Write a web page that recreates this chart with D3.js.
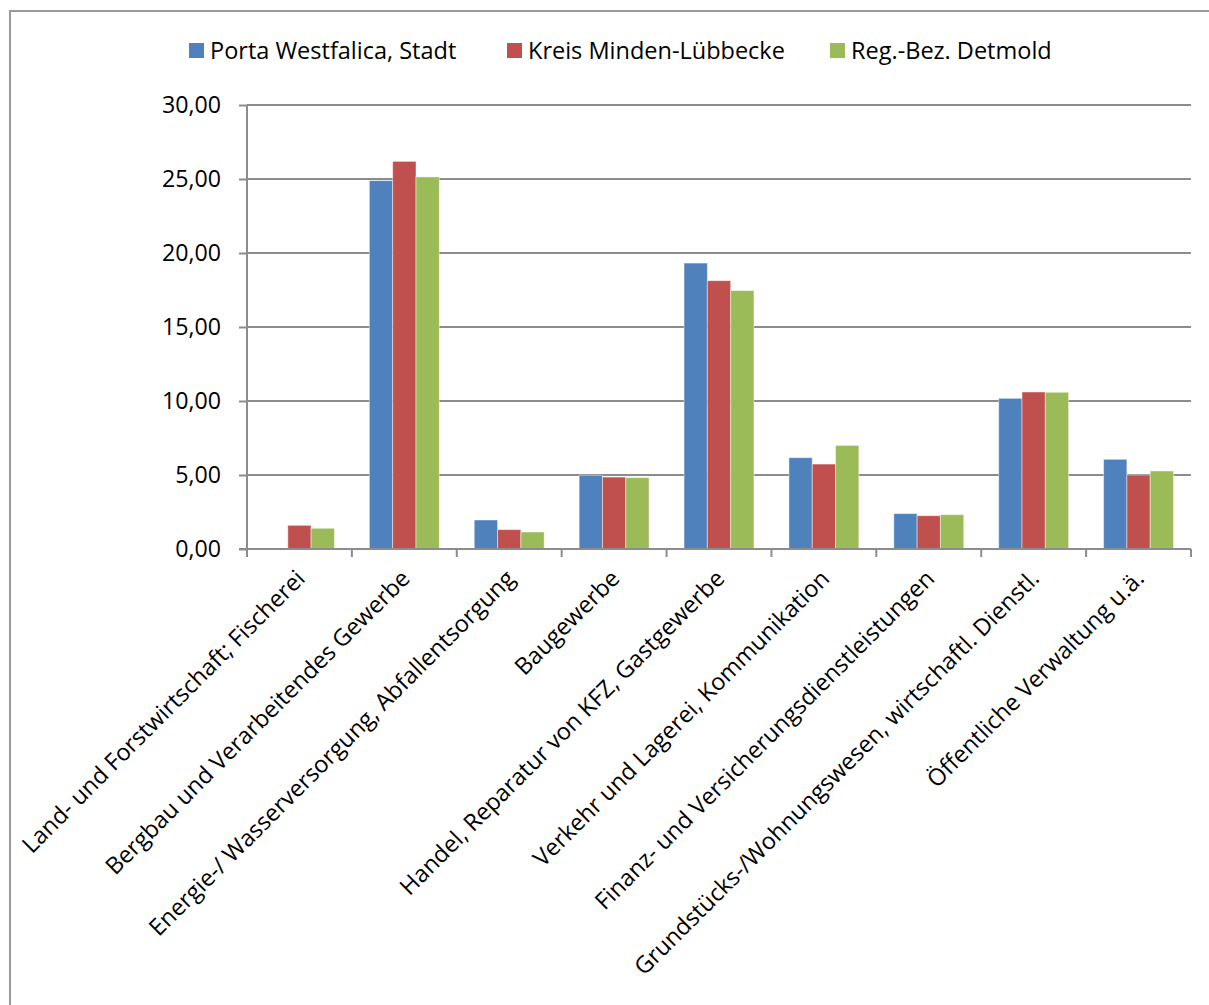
<!DOCTYPE html>
<html>
<head>
<meta charset="utf-8">
<script src="https://cdn.jsdelivr.net/npm/d3@7"></script>
<style>
  html, body { margin: 0; padding: 0; background: #fff; }
  svg { display: block; }
  text { font-family: "Open Sans", "Noto Sans", sans-serif; fill: #000; }
</style>
</head>
<body>
<svg id="chart" width="1209" height="1005"></svg>
<script>
// Branchenstruktur: Anteile in % je Wirtschaftszweig
const categories = [
  "Land- und Forstwirtschaft; Fischerei",
  "Bergbau und Verarbeitendes Gewerbe",
  "Energie-/ Wasserversorgung, Abfallentsorgung",
  "Baugewerbe",
  "Handel, Reparatur von KFZ, Gastgewerbe",
  "Verkehr und Lagerei, Kommunikation",
  "Finanz- und Versicherungsdienstleistungen",
  "Grundstücks-/Wohnungswesen, wirtschaftl. Dienstl.",
  "Öffentliche Verwaltung u.ä."
];
const seriesNames = ["Porta Westfalica, Stadt", "Kreis Minden-Lübbecke", "Reg.-Bez. Detmold"];
const portaWestfalica = [0.00, 24.89, 1.96, 4.98, 19.32, 6.17, 2.39, 10.18, 6.06];
const kreisMindenLuebbecke = [1.60, 26.19, 1.31, 4.86, 18.13, 5.74, 2.25, 10.61, 5.00];
const regBezDetmold = [1.40, 25.14, 1.15, 4.82, 17.46, 7.00, 2.32, 10.59, 5.27];
const yTicks = [0, 5, 10, 15, 20, 25, 30];
const colors = ["#4F81BD", "#C0504D", "#9BBB59"];

const seriesValues = [portaWestfalica, kreisMindenLuebbecke, regBezDetmold];
const rows = categories.map((c, i) => ({
  category: c,
  values: seriesNames.map((s, k) => ({ series: s, value: seriesValues[k][i] }))
}));

const svg = d3.select("#chart");
const plot = { left: 247, right: 1191, top: 105, bottom: 549 };

// outer frame of the chart area
svg.append("rect")
  .attr("x", 10).attr("y", 11)
  .attr("width", 1260).attr("height", 1060)
  .attr("fill", "none").attr("stroke", "#9a9a9a").attr("stroke-width", 2);

const de = d3.formatLocale({ decimal: ",", thousands: ".", grouping: [3], currency: ["", " €"] });
const fmt = de.format(".2f");

const x0 = d3.scaleBand().domain(categories).range([plot.left, plot.right]).padding(0);
const cw = x0.bandwidth();
const barW = cw / 4.5;
const x1 = d3.scaleBand().domain(seriesNames)
  .range([barW * 0.75, barW * 0.75 + barW * 3]).padding(0);
const y = d3.scaleLinear().domain([0, 30]).range([plot.bottom, plot.top]);
const color = d3.scaleOrdinal().domain(seriesNames).range(colors);

// horizontal gridlines
svg.append("g").selectAll("line").data(yTicks.filter(t => t > 0)).join("line")
  .attr("x1", plot.left).attr("x2", plot.right)
  .attr("y1", d => y(d)).attr("y2", d => y(d))
  .attr("stroke", "#8c8c8c").attr("stroke-width", 2);

// bars
svg.append("g").selectAll("g").data(rows).join("g")
  .attr("transform", d => `translate(${x0(d.category)},0)`)
  .selectAll("rect").data(d => d.values.filter(v => v.value > 0)).join("rect")
  .attr("x", d => x1(d.series))
  .attr("width", x1.bandwidth())
  .attr("y", d => y(d.value))
  .attr("height", d => y(0) - y(d.value))
  .attr("fill", d => color(d.series))
  .attr("stroke", "rgba(255,255,255,0.45)")
  .attr("stroke-width", 1);

// y axis
const yAxis = d3.axisLeft(y).tickValues(yTicks).tickSize(8).tickPadding(18).tickFormat(fmt);
const gy = svg.append("g").attr("transform", `translate(${plot.left},0)`).call(yAxis);
gy.select(".domain").attr("stroke", "#8c8c8c").attr("stroke-width", 2)
  .attr("d", `M0,${plot.top}V${plot.bottom + 8}`);
gy.selectAll(".tick line").attr("stroke", "#8c8c8c").attr("stroke-width", 2);
gy.selectAll(".tick text").attr("font-size", 23.2).attr("fill", "#000")
  .style("font-family", "'Open Sans', sans-serif");

// x axis line and ticks at category boundaries
const boundaries = categories.map(c => x0(c)).concat([plot.right]);
svg.append("line")
  .attr("x1", plot.left - 8).attr("x2", plot.right)
  .attr("y1", plot.bottom).attr("y2", plot.bottom)
  .attr("stroke", "#8c8c8c").attr("stroke-width", 2);
svg.append("g").selectAll("line").data(boundaries).join("line")
  .attr("x1", d => d).attr("x2", d => d)
  .attr("y1", plot.bottom).attr("y2", plot.bottom + 8)
  .attr("stroke", "#8c8c8c").attr("stroke-width", 2);

// rotated category labels
svg.append("g").selectAll("text").data(categories).join("text")
  .attr("transform", d => `translate(${x0(d) + cw / 2 + 7},${plot.bottom + 31}) rotate(-45)`)
  .attr("text-anchor", "end")
  .attr("font-size", 23.4)
  .text(d => d);

// legend
const legendX = [189, 507, 830];
const legend = svg.append("g").selectAll("g").data(seriesNames).join("g")
  .attr("transform", (d, i) => `translate(${legendX[i]},43)`);
legend.append("rect").attr("width", 15).attr("height", 15).attr("fill", d => color(d));
legend.append("text").attr("x", 21).attr("y", 15.5).attr("font-size", 23.5).text(d => d);
</script>
</body>
</html>
